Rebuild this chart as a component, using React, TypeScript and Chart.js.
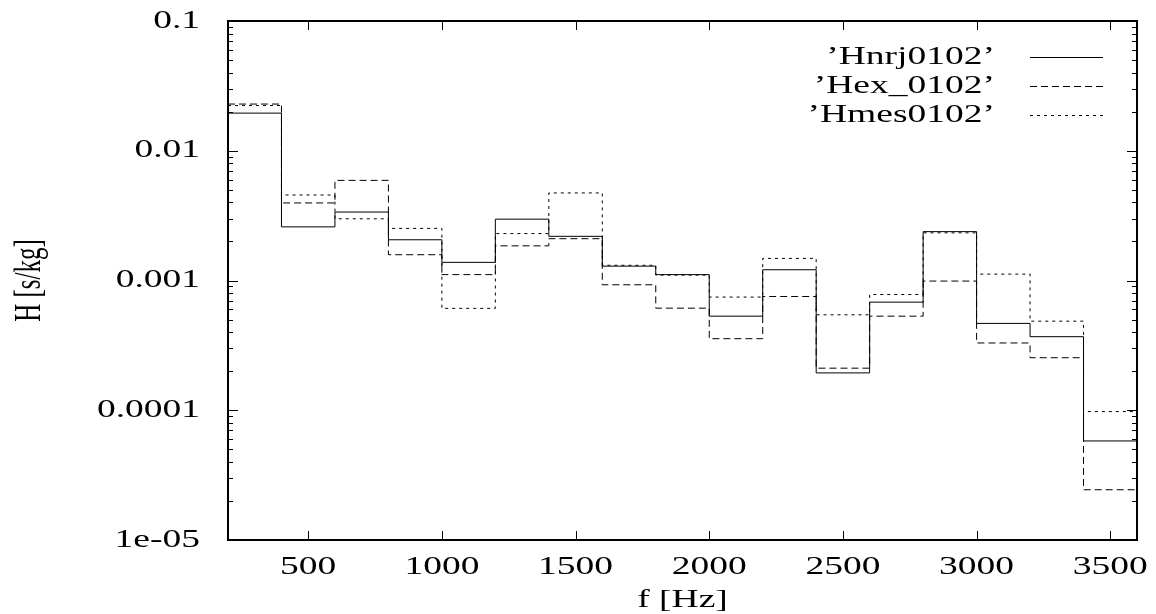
import React, { useEffect, useRef } from "react";
import { Chart, registerables } from "chart.js";

Chart.register(...registerables);

// Bin left edges (Hz); last edge closes the final bin
const FREQ_EDGES = [200, 400, 600, 800, 1000, 1200, 1400, 1600, 1800, 2000, 2200, 2400, 2600, 2800, 3000, 3200, 3400, 3600];

const HNRJ = [0.0195, 0.00259, 0.00337, 0.00206, 0.00138, 0.00297, 0.00219, 0.00129, 0.00111, 0.000531, 0.00121, 0.000194, 0.000681, 0.00238, 0.000467, 0.000369, 0.000058];
const HEX = [0.0229, 0.00396, 0.00591, 0.00158, 0.00111, 0.00185, 0.0021, 0.000927, 0.000612, 0.000356, 0.000753, 0.000211, 0.000531, 0.00099, 0.00033, 0.000254, 0.0000244];
const HMES = [0.0223, 0.00456, 0.00299, 0.00252, 0.00061, 0.0023, 0.00473, 0.00131, 0.0011, 0.000745, 0.00148, 0.000544, 0.00078, 0.00233, 0.00112, 0.000486, 0.0000977];

const SERIES_NAMES = ["\u2019Hnrj0102\u2019", "\u2019Hex_0102\u2019", "\u2019Hmes0102\u2019"];
const X_TICKS = [500, 1000, 1500, 2000, 2500, 3000, 3500];
const Y_TICKS = [0.1, 0.01, 0.001, 0.0001, 0.00001];
const Y_TICK_LABELS = ["0.1", "0.01", "0.001", "0.0001", "1e-05"];
const X_TITLE = "f [Hz]";
const Y_TITLE = "H [s/kg]";

const FONT = "25px 'Liberation Serif', 'Times New Roman', serif";
const SX = 1.5;
const DASHES = [[], [7, 4], [3, 4]];

function toSteps(vals: number[]) {
  const pts = vals.map((v, i) => ({ x: FREQ_EDGES[i], y: v }));
  pts.push({ x: FREQ_EDGES[FREQ_EDGES.length - 1], y: vals[vals.length - 1] });
  return pts;
}

function stretchedText(ctx: CanvasRenderingContext2D, text: string, x: number, y: number, align: CanvasTextAlign, sx = SX) {
  ctx.save();
  ctx.translate(x, y);
  ctx.scale(sx, 1);
  ctx.textAlign = align;
  ctx.textBaseline = "middle";
  ctx.fillText(text, 0, 0);
  ctx.restore();
}

const frameAndText = {
  id: "frameAndText",
  afterDraw(chart: any) {
    const ctx: CanvasRenderingContext2D = chart.ctx;
    const { left, right, top, bottom } = chart.chartArea;
    const xs = chart.scales.x;
    const ys = chart.scales.y;
    ctx.save();
    ctx.strokeStyle = "#000";
    ctx.fillStyle = "#000";
    // ticks (inside, mirrored)
    ctx.lineWidth = 1;
    ctx.beginPath();
    X_TICKS.forEach((v) => {
      const px = Math.round(xs.getPixelForValue(v)) + 0.5;
      ctx.moveTo(px, bottom);
      ctx.lineTo(px, bottom - 9);
      ctx.moveTo(px, top);
      ctx.lineTo(px, top + 9);
    });
    for (let e = -5; e <= -2; e++) {
      for (let m = 1; m <= 9; m++) {
        const v = m * Math.pow(10, e);
        const py = Math.round(ys.getPixelForValue(v)) + 0.5;
        const len = m === 1 ? 10 : 5;
        ctx.moveTo(left, py);
        ctx.lineTo(left + len, py);
        ctx.moveTo(right, py);
        ctx.lineTo(right - len, py);
      }
    }
    ctx.stroke();
    // frame
    ctx.lineWidth = 2;
    ctx.strokeRect(left, top, right - left, bottom - top);

    ctx.font = FONT;
    Y_TICKS.forEach((v, i) => {
      stretchedText(ctx, Y_TICK_LABELS[i], 200, ys.getPixelForValue(v), "right");
    });
    X_TICKS.forEach((v) => {
      stretchedText(ctx, String(v), xs.getPixelForValue(v), 567, "center");
    });
    stretchedText(ctx, X_TITLE, (left + right) / 2, 600, "center");
    // y title, rotated
    ctx.save();
    ctx.translate(30, (top + bottom) / 2);
    ctx.scale(SX, 1);
    ctx.rotate(-Math.PI / 2);
    ctx.textAlign = "center";
    ctx.textBaseline = "middle";
    ctx.fillText(Y_TITLE, 0, 0);
    ctx.restore();

    // legend
    const rows = [57, 86, 115];
    SERIES_NAMES.forEach((name, i) => {
      stretchedText(ctx, name, 995, rows[i], "right");
      ctx.save();
      ctx.lineWidth = 1;
      ctx.setLineDash(DASHES[i]);
      ctx.beginPath();
      ctx.moveTo(1030, rows[i] + 0.5);
      ctx.lineTo(1103, rows[i] + 0.5);
      ctx.stroke();
      ctx.restore();
    });
    ctx.restore();
  },
};

export default function App() {
  const ref = useRef<HTMLCanvasElement | null>(null);
  useEffect(() => {
    document.body.style.margin = "0";
    const canvas = ref.current!;
    const chart = new Chart(canvas, {
      type: "line",
      data: {
        datasets: [HNRJ, HEX, HMES].map((vals, i) => ({
          label: SERIES_NAMES[i],
          data: toSteps(vals),
          stepped: "before" as const,
          borderColor: "#000",
          borderWidth: 1,
          borderDash: DASHES[i],
          pointRadius: 0,
          fill: false,
        })),
      },
      options: {
        animation: false,
        responsive: false,
        devicePixelRatio: 1,
        layout: { padding: { left: 0, top: 21, right: 19, bottom: 0 } },
        plugins: { legend: { display: false }, tooltip: { enabled: false }, title: { display: false } },
        scales: {
          x: {
            type: "linear",
            min: 200,
            max: 3600,
            ticks: { display: false },
            grid: { display: false },
            border: { display: false },
            afterFit: (s: any) => {
              s.height = 74;
            },
          },
          y: {
            type: "logarithmic",
            min: 0.00001,
            max: 0.1,
            ticks: { display: false },
            grid: { display: false },
            border: { display: false },
            afterFit: (s: any) => {
              s.width = 228;
            },
          },
        },
      },
      plugins: [frameAndText],
    });
    return () => chart.destroy();
  }, []);
  return <canvas ref={ref} width={1156} height={614} style={{ display: "block" }} />;
}
